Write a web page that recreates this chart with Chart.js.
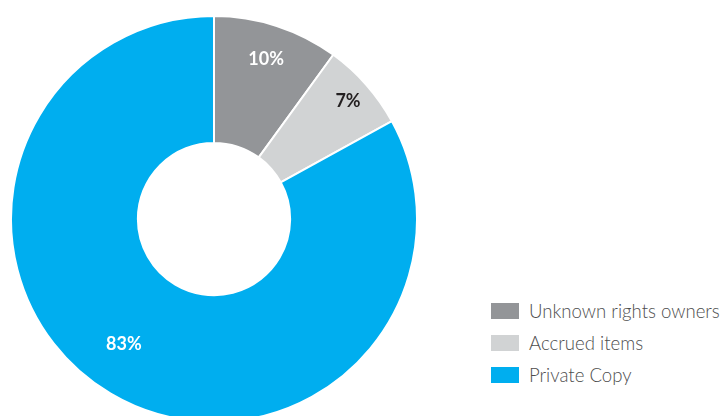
<!DOCTYPE html>
<html><head><meta charset="utf-8">
<script src="https://cdn.jsdelivr.net/npm/chart.js@4/dist/chart.umd.min.js"></script>
<style>
html,body{margin:0;padding:0;width:727px;height:416px;overflow:hidden;background:#fff;}
#wrap{position:absolute;left:10px;top:15px;width:408px;height:408px;}
#legend{position:absolute;left:491px;top:295px;width:236px;font-family:Lato,"Open Sans",sans-serif;font-weight:300;font-size:18.6px;color:#4d4d4d;white-space:nowrap;}
.item{display:flex;align-items:center;height:32px;}
.box{width:28px;height:16px;margin-right:10px;flex:none;}
</style></head>
<body>
<div id="wrap"><canvas id="c"></canvas></div>
<div id="legend"></div>
<script>
const categories = ["Unknown rights owners", "Accrued items", "Private Copy"];
const values = [10, 7, 83];
const labels = ["10%", "7%", "83%"];
const colors = ["#939598", "#d1d3d4", "#00aeef"];
const labelColors = ["#ffffff", "#231f20", "#ffffff"];
const labelRadius = [0.83, 0.88, 0.76];
const labelAngleShift = [0, 0, 0.09];

const labelPlugin = {
  id: 'sliceLabels',
  afterDatasetsDraw(chart) {
    const ctx = chart.ctx;
    const meta = chart.getDatasetMeta(0);
    ctx.save();
    ctx.font = 'bold 18px Lato, "Open Sans", sans-serif';
    ctx.textAlign = 'center';
    ctx.textBaseline = 'middle';
    meta.data.forEach((arc, i) => {
      const p = arc.getProps(['x','y','startAngle','endAngle','outerRadius'], true);
      const a = (p.startAngle + p.endAngle) / 2 + labelAngleShift[i];
      const r = p.outerRadius * labelRadius[i];
      ctx.fillStyle = labelColors[i];
      ctx.fillText(labels[i], p.x + Math.cos(a) * r, p.y + Math.sin(a) * r);
    });
    ctx.restore();
  }
};

new Chart(document.getElementById('c'), {
  type: 'doughnut',
  data: {
    labels: categories,
    datasets: [{
      data: values,
      backgroundColor: colors,
      borderColor: '#ffffff',
      borderWidth: 2
    }]
  },
  options: {
    responsive: true,
    maintainAspectRatio: false,
    animation: false,
    cutout: '37.5%',
    layout: { padding: 0 },
    plugins: { legend: { display: false }, tooltip: { enabled: false } }
  },
  plugins: [labelPlugin]
});

const lg = document.getElementById('legend');
categories.forEach((c, i) => {
  const d = document.createElement('div');
  d.className = 'item';
  d.innerHTML = '<span class="box" style="background:' + colors[i] + '"></span><span>' + c + '</span>';
  lg.appendChild(d);
});
</script>
</body></html>
